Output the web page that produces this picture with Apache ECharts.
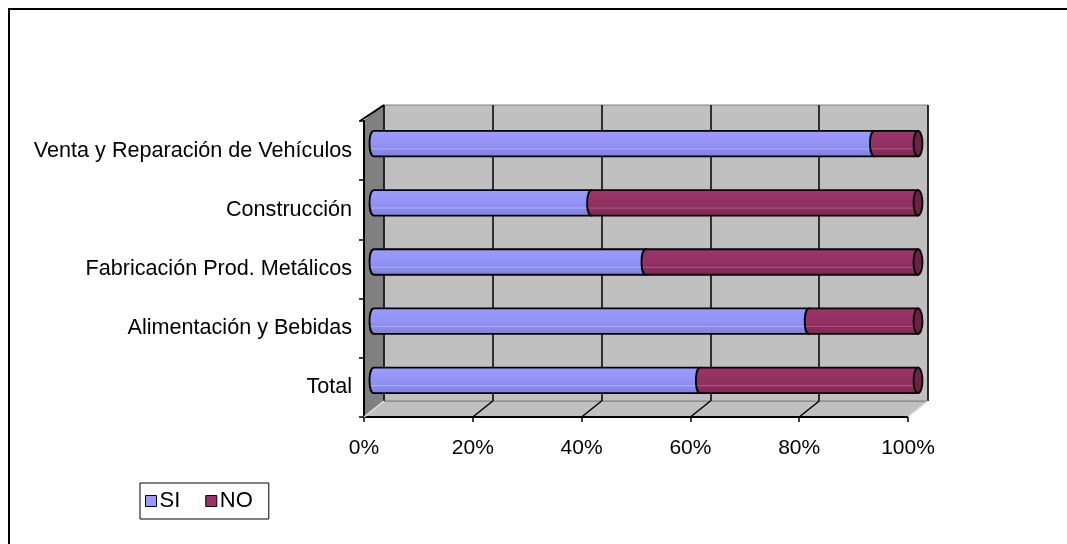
<!DOCTYPE html>
<html>
<head>
<meta charset="utf-8">
<script src="https://cdn.jsdelivr.net/npm/echarts@6/dist/echarts.min.js"></script>
<style>html,body{margin:0;padding:0;background:#fff;}#c{width:1067px;height:544px;}</style>
</head>
<body>
<div id="c"></div>
<script>
// ---- data ----
const categories = ['Total', 'Alimentación y Bebidas', 'Fabricación Prod. Metálicos', 'Construcción', 'Venta y Reparación de Vehículos'];
const siValues = [60, 80, 50, 40, 92];
const noValues = [40, 20, 50, 60, 8];
const seriesNames = ['SI', 'NO'];
const xTicks = [0, 20, 40, 60, 80, 100];

const FONT = 'Liberation Sans, Arial, sans-serif';
const chart = echarts.init(document.getElementById('c'), null, {renderer: 'canvas'});

const W = 1067, H = 544;
// three depth planes: back wall, bar plane, front axes
const back = {left: 384, top: 105, width: 544, height: 296};
const mid = {left: 374, top: 114, width: 544, height: 296};
const front = {left: 364, top: 121, width: 544, height: 296};

const siData = siValues.map((v, i) => [0, v, i]);
const noData = noValues.map((v, i) => [siValues[i], siValues[i] + v, i]);

const fills = [
  new echarts.graphic.LinearGradient(0, 0, 0, 1, [
    {offset: 0, color: '#9c9cff'}, {offset: 0.5, color: '#9393f6'},
    {offset: 0.66, color: '#8c8cee'}, {offset: 0.69, color: '#b0b0ff'},
    {offset: 0.73, color: '#8a8aea'}, {offset: 1, color: '#8080dc'}]),
  new echarts.graphic.LinearGradient(0, 0, 0, 1, [
    {offset: 0, color: '#9c3569'}, {offset: 0.5, color: '#933163'},
    {offset: 0.66, color: '#8d2f5f'}, {offset: 0.69, color: '#b35a84'},
    {offset: 0.73, color: '#8a2d5c'}, {offset: 1, color: '#7d2854'}])
];
const capFill = ['#6f6fc0', '#6a2246'];

function makeRender(si) {
  return function (params, api) {
    const cat = api.value(2);
    const s = api.coord([api.value(0), cat]);
    const e = api.coord([api.value(1), cat]);
    const band = api.size([0, 1])[1];
    const h = band * 0.43;
    const yT = s[1] - h / 2, yB = s[1] + h / 2;
    const rx = 4.5, k = rx * 1.33;
    const x0 = s[0], x1 = e[0];
    const children = [{
      type: 'path',
      shape: {pathData: `M${x0},${yT} L${x1},${yT} L${x1},${yB} L${x0},${yB} C${x0 - k},${yB} ${x0 - k},${yT} ${x0},${yT} Z`},
      style: {fill: fills[si], stroke: '#000', lineWidth: 1.8}
    }];
    if (si === seriesNames.length - 1) {
      children.push({
        type: 'ellipse',
        shape: {cx: x1, cy: s[1], rx: rx, ry: h / 2},
        style: {fill: capFill[si], stroke: '#000', lineWidth: 1.8}
      });
    }
    return {type: 'group', children};
  };
}

const option = {
  animation: false,
  backgroundColor: '#fff',
  textStyle: {fontFamily: FONT},
  legend: {
    data: seriesNames,
    left: 140, top: 483,
    orient: 'horizontal',
    borderColor: '#000', borderWidth: 1, borderRadius: 0,
    padding: [7, 16, 7, 5],
    itemGap: 25, itemWidth: 11, itemHeight: 11,
    icon: 'rect',
    itemStyle: {borderColor: '#000', borderWidth: 1},
    textStyle: {fontFamily: FONT, fontSize: 22, color: '#000', padding: [0, 0, 0, -2]}
  },
  grid: [
    Object.assign({show: true, backgroundColor: '#c0c0c0', borderColor: '#808080', borderWidth: 1}, back),
    Object.assign({show: false}, mid),
    Object.assign({show: false}, front)
  ],
  xAxis: [
    {gridIndex: 0, type: 'value', min: 0, max: 100, interval: 20,
      axisLine: {show: false}, axisTick: {show: false}, axisLabel: {show: false},
      splitLine: {show: true, lineStyle: {color: '#000', width: 1.5}}},
    {gridIndex: 1, type: 'value', min: 0, max: 100, interval: 20,
      axisLine: {show: false}, axisTick: {show: false}, axisLabel: {show: false}, splitLine: {show: false}},
    {gridIndex: 2, type: 'value', min: 0, max: 100, interval: 20,
      axisLine: {show: true, lineStyle: {color: '#000', width: 2}},
      axisTick: {show: true, length: 5, lineStyle: {color: '#000', width: 1.5}},
      axisLabel: {show: true, formatter: '{value}%', fontFamily: FONT, fontSize: 21, color: '#000', margin: 21},
      splitLine: {show: false}}
  ],
  yAxis: [
    {gridIndex: 0, type: 'category', data: categories, show: false},
    {gridIndex: 1, type: 'category', data: categories, show: false},
    {gridIndex: 2, type: 'category', data: categories,
      axisLine: {show: true, lineStyle: {color: '#000', width: 2}},
      axisTick: {show: true, length: 5, lineStyle: {color: '#000', width: 1.5}},
      axisLabel: {fontFamily: FONT, fontSize: 21.6, color: '#000', margin: 12},
      splitLine: {show: false}}
  ],
  series: [
    {name: seriesNames[0], type: 'custom', xAxisIndex: 1, yAxisIndex: 1, data: siData,
      encode: {x: [0, 1], y: 2}, renderItem: makeRender(0), itemStyle: {color: '#9999ff'}, z: 5},
    {name: seriesNames[1], type: 'custom', xAxisIndex: 1, yAxisIndex: 1, data: noData,
      encode: {x: [0, 1], y: 2}, renderItem: makeRender(1), itemStyle: {color: '#993366'}, z: 6}
  ]
};
chart.setOption(option);

// 3D decorations: side wall, floor, floor gridlines derived from the axes
const fb = front.top + front.height, bb = back.top + back.height;
const gfx = [];
gfx.push({type: 'rect', shape: {x: 9, y: 9, width: W + 20, height: H + 20}, style: {fill: null, stroke: '#000', lineWidth: 2}, z: 100, silent: true});
gfx.push({type: 'polygon', shape: {points: [[front.left, front.top], [back.left, back.top], [back.left, bb], [front.left, fb]]},
  style: {fill: '#808080', stroke: '#606060', lineWidth: 1}, z: -1});
gfx.push({type: 'polygon', shape: {points: [[front.left, fb], [back.left, bb], [back.left + back.width, bb], [front.left + front.width, fb]]},
  style: {fill: '#c0c0c0', stroke: '#808080', lineWidth: 1}, z: -1});
gfx.push({type: 'line', shape: {x1: front.left - 4, y1: front.top, x2: back.left, y2: back.top}, style: {stroke: '#000', lineWidth: 2}, z: 10});
xTicks.forEach((t, i) => {
  const pf = chart.convertToPixel({xAxisIndex: 2}, t);
  const pb = chart.convertToPixel({xAxisIndex: 0}, t);
  const edge = (i === 0 || i === xTicks.length - 1);
  gfx.push({type: 'line', shape: {x1: pf, y1: fb, x2: pb, y2: bb},
    style: {stroke: edge ? '#e8e8e8' : '#000', lineWidth: 1.5}, z: 10});
});
chart.setOption({graphic: {elements: gfx}});
</script>
</body>
</html>
